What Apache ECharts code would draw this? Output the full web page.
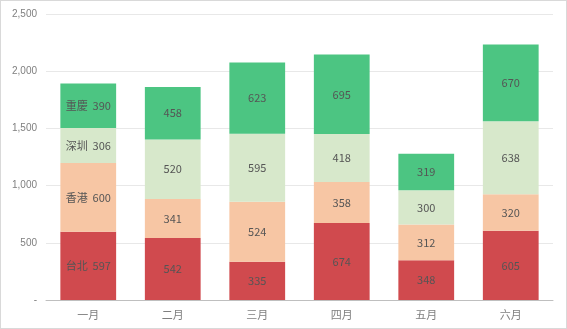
<!DOCTYPE html>
<html>
<head>
<meta charset="utf-8">
<script src="https://cdn.jsdelivr.net/npm/echarts@6/dist/echarts.min.js"></script>
<style>
  html, body { margin: 0; padding: 0; background: #fff; }
  #chart { width: 567px; height: 329px; box-sizing: border-box; border: 1px solid #d9d9d9; }
</style>
</head>
<body>
<div id="chart"></div>
<script>
// Monthly figures per city, stacked
const months = ['一月', '二月', '三月', '四月', '五月', '六月'];
const cities = ['台北', '香港', '深圳', '重慶'];
const taipei = [597, 542, 335, 674, 348, 605];
const hongkong = [600, 341, 524, 358, 312, 320];
const shenzhen = [306, 520, 595, 418, 300, 638];
const chongqing = [390, 458, 623, 695, 319, 670];
const colors = ['#d04a4e', '#f7c6a4', '#d7e8cb', '#4cc582'];

const seriesData = [taipei, hongkong, shenzhen, chongqing];

const chart = echarts.init(document.getElementById('chart'));
chart.setOption({
  animation: false,
  grid: { left: 45, right: 13, top: 13, bottom: 28 },
  xAxis: {
    type: 'category',
    data: months,
    axisTick: { show: false },
    axisLine: { lineStyle: { color: '#bfbfbf', width: 1 } },
    axisLabel: { color: '#7f7f7f', fontSize: 11, margin: 9, fontFamily: 'Noto Sans CJK SC' }
  },
  yAxis: {
    type: 'value',
    min: 0,
    max: 2500,
    interval: 500,
    axisLine: { show: false },
    axisTick: { show: false },
    splitLine: { lineStyle: { color: '#e8e8e8', width: 1 } },
    axisLabel: {
      color: '#7f7f7f',
      fontSize: 10,
      margin: 9,
      fontFamily: 'Liberation Sans',
      formatter: v => v === 0 ? '-' : v.toLocaleString('en-US')
    }
  },
  series: seriesData.map((vals, i) => ({
    name: cities[i],
    type: 'bar',
    stack: 'total',
    barWidth: '66%',
    itemStyle: { color: colors[i] },
    label: {
      show: true,
      position: 'inside',
      color: '#555',
      fontSize: 11,
      fontFamily: 'Noto Sans CJK SC',
      formatter: p => p.dataIndex === 0 ? cities[i] + '  ' + p.value : String(p.value)
    },
    data: vals
  }))
});
</script>
</body>
</html>
